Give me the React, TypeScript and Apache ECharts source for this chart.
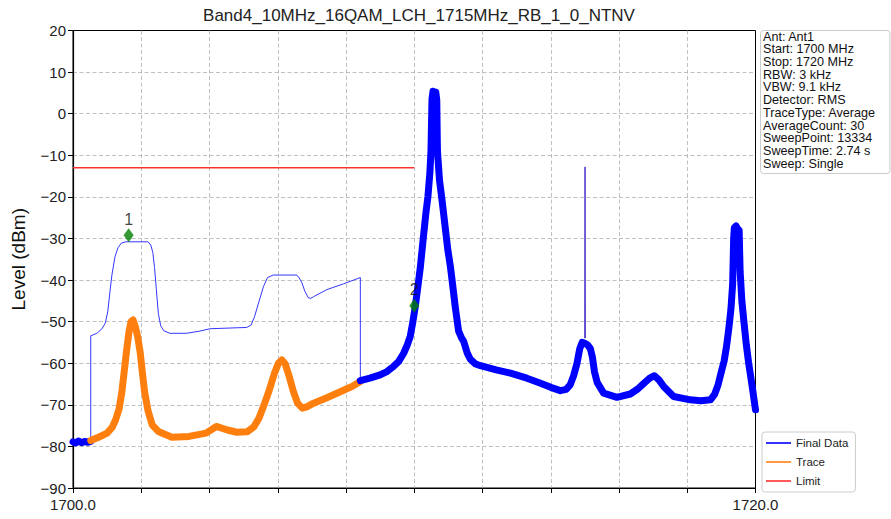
import React, { useEffect, useRef } from "react";
import * as echarts from "echarts";

const titleText = "Band4_10MHz_16QAM_LCH_1715MHz_RB_1_0_NTNV";
const yAxisName = "Level (dBm)";
const xMin = 1700;
const xMax = 1720;
const xStep = 2;
const yMin = -90;
const yMax = 20;
const yStep = 10;
const xLabelsShown = [1700, 1720];
const legendNames = ["Final Data", "Trace", "Limit"];
const infoLines = [
  "Ant: Ant1",
  "Start: 1700 MHz",
  "Stop: 1720 MHz",
  "RBW: 3 kHz",
  "VBW: 9.1 kHz",
  "Detector: RMS",
  "TraceType: Average",
  "AverageCount: 30",
  "SweepPoint: 13334",
  "SweepTime: 2.74 s",
  "Sweep: Single",
];

const finalLeftNoise: [number, number][] = [
  [1700.0, -78.9], [1700.08, -79.2], [1700.16, -78.7], [1700.25, -79.1],
  [1700.34, -78.8], [1700.43, -79.0], [1700.52, -78.8],
];

const finalEnvelope: [number, number][] = [
  [1700.52, -78.8], [1700.52, -53.4], [1700.7, -52.8], [1700.85, -51.7],
  [1700.95, -50.3], [1701.02, -47.5], [1701.08, -43], [1701.14, -38.8],
  [1701.23, -34.4], [1701.32, -32.2], [1701.42, -31.1], [1701.55, -30.8],
  [1702.2, -30.8], [1702.28, -31.6], [1702.34, -33.4], [1702.39, -37],
  [1702.44, -42], [1702.5, -48], [1702.57, -51], [1702.66, -52.2],
  [1702.84, -52.8], [1703.33, -52.8], [1703.7, -52.3], [1704.02, -51.7],
  [1705.09, -51.4], [1705.22, -50.8], [1705.32, -48.8], [1705.42, -46],
  [1705.5, -43.8], [1705.58, -41.6], [1705.7, -39.4], [1705.87, -38.8],
  [1706.56, -38.8], [1706.63, -39.5], [1706.7, -40.5], [1706.8, -42.8],
  [1706.9, -44.3], [1706.97, -44.4], [1707.05, -44.0], [1707.44, -42.3],
  [1707.93, -40.9], [1708.42, -39.4], [1708.42, -64.2],
];

const traceData: [number, number][] = [
  [1700.52, -78.6], [1700.75, -77.8], [1701.0, -76.8], [1701.15, -75.4],
  [1701.25, -73.6], [1701.35, -71], [1701.43, -67], [1701.5, -62],
  [1701.57, -57], [1701.64, -52.5], [1701.7, -50], [1701.76, -49.6],
  [1701.83, -51.3], [1701.9, -53.8], [1701.97, -57.5], [1702.03, -62],
  [1702.1, -67], [1702.2, -71.5], [1702.32, -74.8], [1702.5, -76.4],
  [1702.9, -77.8], [1703.4, -77.6], [1703.9, -76.8], [1704.2, -75.2],
  [1704.5, -76], [1704.8, -76.6], [1705.1, -76.5], [1705.3, -75.3],
  [1705.45, -73.2], [1705.6, -70], [1705.75, -66.5], [1705.9, -62.5],
  [1706.02, -60], [1706.12, -59.2], [1706.22, -60.2], [1706.33, -63],
  [1706.45, -66.6], [1706.58, -69.6], [1706.72, -70.8], [1706.85, -70.5],
  [1707.05, -69.6], [1707.44, -68.3], [1707.93, -66.5], [1708.2, -65.5],
  [1708.42, -64.4],
];

const finalRightNoise: [number, number][] = [
  [1708.42, -64.2], [1708.7, -63.6], [1709.0, -62.8], [1709.2, -62],
  [1709.39, -60.8], [1709.55, -59.5], [1709.69, -57.6], [1709.8, -55.5],
  [1709.88, -53.6], [1709.95, -50.5], [1710.03, -46.4], [1710.1, -42],
  [1710.18, -36.8], [1710.27, -29.5], [1710.34, -24], [1710.4, -20],
  [1710.46, -14], [1710.49, -9], [1710.52, 3.5], [1710.55, 5.4],
  [1710.59, 4.6], [1710.63, 5.2], [1710.66, 3.3], [1710.68, -9],
  [1710.74, -16], [1710.81, -20.5], [1710.91, -27.5], [1710.98, -32.5],
  [1711.06, -36.8], [1711.13, -41.5], [1711.2, -46.4], [1711.3, -52.3],
  [1711.38, -53.8], [1711.45, -54.8], [1711.55, -57.5], [1711.64, -59],
  [1711.8, -60.2], [1711.94, -60.6], [1712.4, -61.6], [1712.82, -62.4],
  [1713.3, -63.6], [1713.7, -64.8], [1714.0, -65.8], [1714.28, -66.6],
  [1714.45, -66.3], [1714.57, -65.2], [1714.67, -63], [1714.77, -60],
  [1714.85, -56.5], [1714.92, -55], [1715.0, -55.2], [1715.08, -55.6],
  [1715.16, -56.5], [1715.22, -58.5], [1715.28, -62], [1715.36, -64.6],
  [1715.55, -67.2], [1715.94, -68.2], [1716.33, -67.4], [1716.55, -66.2],
  [1716.72, -64.9], [1716.9, -63.6], [1717.04, -63], [1717.17, -64],
  [1717.31, -65.6], [1717.6, -68], [1718.09, -68.8], [1718.4, -69],
  [1718.68, -68.8], [1718.8, -67.5], [1718.9, -65.3], [1719.0, -62],
  [1719.08, -59.5], [1719.15, -56], [1719.22, -51.5], [1719.28, -47],
  [1719.33, -41], [1719.36, -30], [1719.38, -27.4], [1719.43, -27.0],
  [1719.47, -27.6], [1719.52, -28], [1719.55, -38], [1719.6, -45],
  [1719.66, -50], [1719.73, -55.5], [1719.8, -60], [1719.9, -65.4],
  [1720.0, -71.2],
];

const finalSpike: [number, number][] = [
  [1714.995, -54], [1715.005, -12.8], [1715.015, -54],
];

const limitData: [number, number][] = [
  [1700, -13], [1710, -13],
];

const markerNames = ["1", "2"];
const markerFreqs = [1701.63, 1710.0];
const markerLevels = [-29.2, -46.2];

const FONT = '"Liberation Sans", Arial, Helvetica, sans-serif';
const BLUE = "#0000ff";
const ORANGE = "#ff7f0e";
const RED = "#ff3030";
const LEGEND_ICON = "path://M0,0H25V1.6H0Z";

export default function App() {
  const ref = useRef<HTMLDivElement>(null);

  useEffect(() => {
    if (!ref.current) return;
    const chart = echarts.init(ref.current, undefined, { renderer: "svg" });

    const thick = 7;
    const noisyStyle = (color: string) => ({
      color,
      width: thick,
      join: "round" as const,
      cap: "round" as const,
    });

    const gridLineStyle = { color: "#b0b0b0", type: [4, 2.5], width: 0.8 };

    const option: any = {
      animation: false,
      textStyle: { fontFamily: FONT },
      title: {
        text: titleText,
        left: 414,
        top: 2,
        textAlign: "center",
        textStyle: { fontSize: 17, fontWeight: "normal", color: "#222", fontFamily: FONT },
      },
      grid: {
        left: 73,
        right: 135.5,
        top: 30.5,
        bottom: 31,
        show: true,
        borderColor: "#000",
        borderWidth: 1,
        backgroundColor: "transparent",
      },
      legend: {
        data: legendNames.map((n) => ({ name: n, icon: LEGEND_ICON })),
        orient: "vertical",
        left: 762,
        top: 432,
        itemWidth: 25,
        itemHeight: 10,
        itemGap: 7,
        symbolKeepAspect: true,
        padding: [5, 7, 5, 4],
        borderColor: "#cccccc",
        borderWidth: 1,
        borderRadius: 3,
        backgroundColor: "#fff",
        textStyle: { fontSize: 11.5, color: "#222", fontFamily: FONT },
        selectedMode: false,
      },
      xAxis: {
        type: "value",
        min: xMin,
        max: xMax,
        interval: xStep,
        axisLine: { show: true, onZero: false, lineStyle: { color: "#000", width: 1.2 } },
        axisTick: { show: true, inside: false, length: 5, lineStyle: { color: "#000" } },
        axisLabel: {
          fontSize: 15,
          color: "#222",
          margin: 9,
          fontFamily: FONT,
          formatter: (v: number) => (xLabelsShown.includes(v) ? v.toFixed(1) : ""),
        },
        splitLine: { show: true, showMinLine: false, showMaxLine: false, lineStyle: gridLineStyle },
      },
      yAxis: {
        type: "value",
        min: yMin,
        max: yMax,
        interval: yStep,
        name: yAxisName,
        nameLocation: "middle",
        nameGap: 45,
        nameTextStyle: { fontSize: 19, color: "#111", fontFamily: FONT },
        axisLine: { show: true, onZero: false, lineStyle: { color: "#000", width: 1.2 } },
        axisTick: { show: true, inside: false, length: 5, lineStyle: { color: "#000" } },
        axisLabel: {
          fontSize: 15,
          color: "#222",
          margin: 7,
          fontFamily: FONT,
          formatter: (v: number) => String(v).replace("-", "\u2212"),
        },
        splitLine: { show: true, showMinLine: false, showMaxLine: false, lineStyle: gridLineStyle },
      },
      series: [
        {
          name: "Final Data",
          type: "line",
          data: finalLeftNoise,
          symbol: "none",
          lineStyle: noisyStyle(BLUE),
          itemStyle: { color: BLUE },
          z: 2,
        },
        {
          name: "Final Data",
          type: "line",
          data: finalEnvelope,
          symbol: "none",
          lineStyle: { color: "#3535ff", width: 1 },
          itemStyle: { color: BLUE },
          z: 2,
        },
        {
          name: "Trace",
          type: "line",
          data: traceData,
          symbol: "none",
          lineStyle: noisyStyle(ORANGE),
          itemStyle: { color: ORANGE },
          z: 3,
        },
        {
          name: "Final Data",
          type: "line",
          data: finalRightNoise,
          symbol: "none",
          lineStyle: noisyStyle(BLUE),
          itemStyle: { color: BLUE },
          z: 4,
        },
        {
          name: "Final Data",
          type: "line",
          data: finalSpike,
          symbol: "none",
          lineStyle: { color: "#4a2fc8", width: 1 },
          itemStyle: { color: BLUE },
          z: 4,
        },
        {
          name: "Limit",
          type: "line",
          data: limitData,
          symbol: "none",
          lineStyle: { color: RED, width: 1.5 },
          itemStyle: { color: RED },
          z: 5,
        },
        {
          name: "Markers",
          type: "scatter",
          data: markerNames.map((n, i) => ({ name: n, value: [markerFreqs[i], markerLevels[i]] })),
          symbol: "diamond",
          symbolSize: [10, 14],
          itemStyle: { color: "#008000" },
          label: {
            show: true,
            position: "top",
            distance: 1,
            formatter: "{b}",
            fontSize: 16,
            color: "#111",
            fontFamily: FONT,
          },
          z: 6,
        },
      ],
      graphic: [
        {
          type: "group",
          children: [
            {
              type: "rect",
              shape: { x: 760.5, y: 30.5, width: 129.5, height: 143, r: 3 },
              style: { fill: "#fff", stroke: "#cccccc", lineWidth: 1 },
            },
            ...infoLines.map((t, i) => ({
              type: "text",
              x: 763,
              y: 36.5 + i * 12.73,
              style: {
                text: t,
                fill: "#111",
                fontSize: 12.6,
                fontFamily: FONT,
                verticalAlign: "middle",
                align: "left",
              },
            })),
          ],
        },
      ],
    };

    chart.setOption(option);
    return () => chart.dispose();
  }, []);

  return (
    <div
      ref={ref}
      style={{ position: "fixed", left: 0, top: 0, width: 891, height: 519, background: "#fff" }}
    />
  );
}
